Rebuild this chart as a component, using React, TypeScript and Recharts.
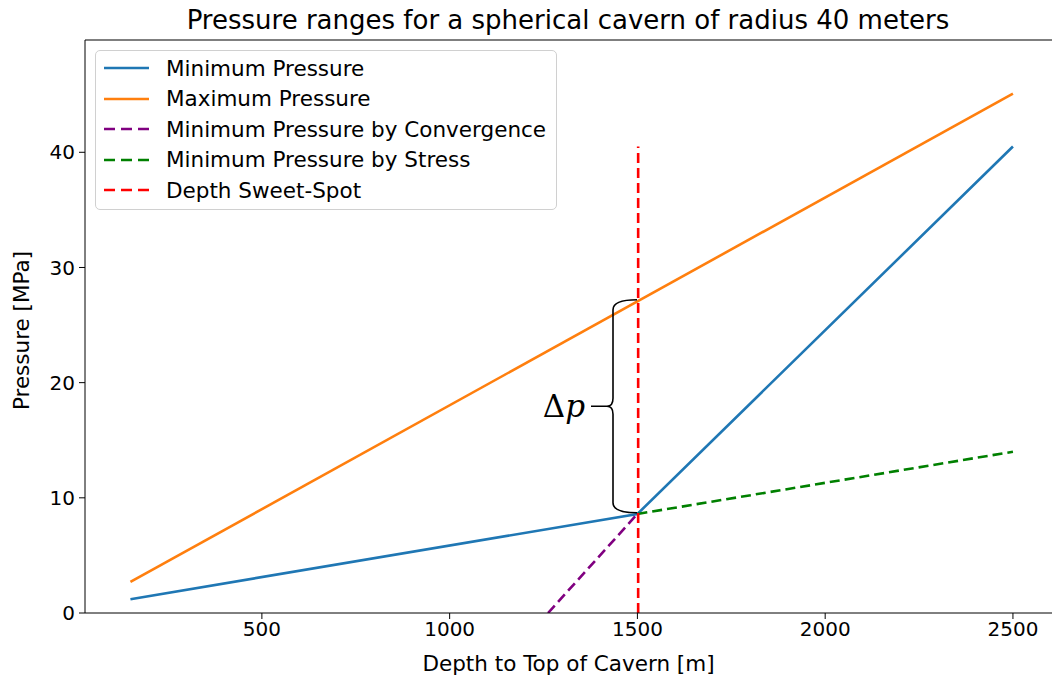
import React from "react";
import { LineChart, Line, XAxis, YAxis, ReferenceLine } from "recharts";

const maxDepth = [150, 2500];
const maxPressure = [2.7, 45.1];
const minDepth = [150, 1500, 2500];
const minPressure = [1.2, 8.6, 40.5];
const convDepth = [1262, 1500];
const convPressure = [0, 8.6];
const stressDepth = [1500, 2500];
const stressPressure = [8.6, 14.0];
const sweetDepth = [1502, 1502];
const sweetPressure = [0, 40.5];

const xTicks = [500, 1000, 1500, 2000, 2500];
const yTicks = [0, 10, 20, 30, 40];

const toPoints = (xs: number[], ys: number[]) => xs.map((x, i) => ({ depth: x, p: ys[i] }));

const series = [
  { name: "Minimum Pressure", color: "#1f77b4", dash: undefined, data: toPoints(minDepth, minPressure) },
  { name: "Maximum Pressure", color: "#ff7f0e", dash: undefined, data: toPoints(maxDepth, maxPressure) },
  { name: "Minimum Pressure by Convergence", color: "#800080", dash: "10 5", data: toPoints(convDepth, convPressure) },
  { name: "Minimum Pressure by Stress", color: "#008000", dash: "10 5", data: toPoints(stressDepth, stressPressure) },
  { name: "Depth Sweet-Spot", color: "#ff0000", dash: "10 5", data: toPoints(sweetDepth, sweetPressure) },
];

const FONT = "DejaVu Sans, sans-serif";
const X_DOMAIN: [number, number] = [29, 2604];
const Y_DOMAIN: [number, number] = [0, 49.75];

// curly brace between two pixel points, with the Δp label to its left
function Brace(props: any) {
  const { x1, y1, y2 } = props;
  const x = x1;
  const yt = Math.min(y1, y2);
  const yb = Math.max(y1, y2);
  const mid = (yt + yb) / 2;
  const tip = 24;
  const d = [
    `M ${x + tip} ${yt}`,
    `Q ${x} ${yt} ${x} ${yt + 10}`,
    `L ${x} ${mid - 8}`,
    `Q ${x} ${mid} ${x - 6} ${mid}`,
    `Q ${x} ${mid} ${x} ${mid + 8}`,
    `L ${x} ${yb - 10}`,
    `Q ${x} ${yb} ${x + tip} ${yb}`,
    `M ${x - 6} ${mid} L ${x - 22} ${mid}`,
  ].join(" ");
  return (
    <g>
      <path d={d} fill="none" stroke="#000" strokeWidth={1.6} />
      <text x={x - 28} y={mid} textAnchor="end" dominantBaseline="central"
        fontFamily="DejaVu Serif, serif" fontSize={31} fill="#000">
        Δ<tspan fontStyle="italic">p</tspan>
      </text>
    </g>
  );
}

export default function App() {
  return (
    <div style={{ position: "fixed", left: 0, top: 0, width: 1052, height: 682, background: "#fff", fontFamily: FONT }}>
      <LineChart width={1052} height={682} margin={{ top: 40, right: 0, bottom: 0, left: 0 }}>
        <XAxis
          type="number"
          dataKey="depth"
          domain={X_DOMAIN}
          ticks={xTicks}
          allowDataOverflow
          height={69}
          tickSize={6}
          tickMargin={3}
          stroke="#000"
          tick={{ fill: "#000", fontSize: 20, fontFamily: FONT }}
          label={(props: any) => {
            const vb = props.viewBox;
            return (
              <text x={vb.x + vb.width / 2} y={vb.y + 50} textAnchor="middle" dominantBaseline="central"
                fontSize={21.5} fontFamily={FONT} fill="#000">
                Depth to Top of Cavern [m]
              </text>
            );
          }}
        />
        <YAxis
          type="number"
          domain={Y_DOMAIN}
          ticks={yTicks}
          allowDataOverflow
          width={85}
          tickSize={6}
          tickMargin={4}
          stroke="#000"
          tick={{ fill: "#000", fontSize: 20, fontFamily: FONT }}
          label={(props: any) => {
            const vb = props.viewBox;
            const cx = vb.x + 21;
            const cy = vb.y + vb.height / 2 + 4;
            return (
              <text x={cx} y={cy} transform={`rotate(-90 ${cx} ${cy})`} textAnchor="middle" dominantBaseline="central"
                fontSize={21.5} fontFamily={FONT} fill="#000">
                Pressure [MPa]
              </text>
            );
          }}
        />
        {/* top spine */}
        <ReferenceLine y={Y_DOMAIN[1]} stroke="#000" strokeWidth={1.2} ifOverflow="visible" />
        {series.map(s => (
          <Line
            key={s.name}
            data={s.data}
            dataKey="p"
            type="linear"
            stroke={s.color}
            strokeWidth={2.6}
            strokeDasharray={s.dash}
            dot={false}
            activeDot={false}
            isAnimationActive={false}
          />
        ))}
        <ReferenceLine
          segment={[{ x: 1435, y: 8.7 }, { x: 1435, y: 27.2 }]}
          ifOverflow="visible"
          shape={(p: any) => <Brace {...p} />}
        />
        <text x={568} y={20} textAnchor="middle" dominantBaseline="central" fontSize={26} fontFamily={FONT} fill="#000">
          Pressure ranges for a spherical cavern of radius 40 meters
        </text>
      </LineChart>

      <div style={{
        position: "absolute", left: 95, top: 50, width: 462, height: 160, boxSizing: "border-box",
        border: "1px solid #d0d0d0", borderRadius: 5, background: "rgba(255,255,255,0.85)", paddingTop: 2,
      }}>
        {series.map(s => (
          <div key={s.name} style={{ display: "flex", alignItems: "center", height: 30.5, fontSize: 21.5, color: "#000" }}>
            <svg width={48} height={10} style={{ marginLeft: 7, marginRight: 15, flexShrink: 0 }}>
              <line x1={1} y1={5} x2={46} y2={5} stroke={s.color} strokeWidth={2.6}
                strokeDasharray={s.dash ? "11 6" : undefined} />
            </svg>
            <span style={{ whiteSpace: "nowrap" }}>{s.name}</span>
          </div>
        ))}
      </div>
    </div>
  );
}
